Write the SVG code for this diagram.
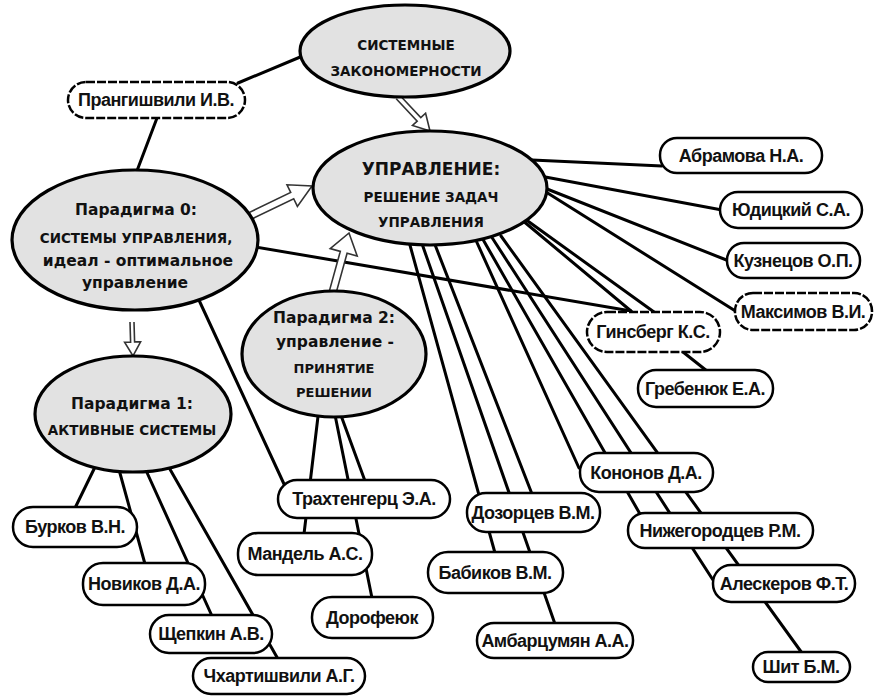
<svg xmlns="http://www.w3.org/2000/svg" width="874" height="696" viewBox="0 0 874 696">
<style>
.bg{fill:#ffffff}
.ell{fill:#e2e2e2;stroke:#000;stroke-width:3.2}
.box{fill:#ffffff;stroke:#000;stroke-width:2.5}
.dash{stroke-dasharray:9 2}
.ln{stroke:#000;stroke-width:3;fill:none;stroke-linecap:round}
.arr{fill:#ffffff;stroke:#333;stroke-width:1.6;stroke-linejoin:miter}
.ht{font-family:"DejaVu Sans","Verdana",sans-serif;font-weight:bold;fill:#111;text-anchor:middle}
.nm{font-family:"Liberation Sans","Arial",sans-serif;font-weight:bold;font-size:18px;letter-spacing:-0.5px;fill:#111;text-anchor:middle}
</style>
<rect class="bg" x="0" y="0" width="874" height="696"/>
<g id="connectors">
<line class="ln" x1="305" y1="55" x2="238" y2="83"/>
<line class="ln" x1="157" y1="118" x2="135" y2="176"/>
<line class="ln" x1="250" y1="246" x2="631" y2="311"/>
<line class="ln" x1="198" y1="298" x2="284" y2="484"/>
<line class="ln" x1="532" y1="160" x2="662" y2="166"/>
<line class="ln" x1="540" y1="176" x2="722" y2="210"/>
<line class="ln" x1="542" y1="187" x2="729" y2="261"/>
<line class="ln" x1="546" y1="192" x2="737" y2="312"/>
<line class="ln" x1="522" y1="220" x2="631" y2="311"/>
<line class="ln" x1="525" y1="219" x2="654" y2="312"/>
<line class="ln" x1="683" y1="352" x2="707" y2="371"/>
<line class="ln" x1="408" y1="238" x2="495" y2="553"/>
<line class="ln" x1="420" y1="238" x2="555" y2="624"/>
<line class="ln" x1="432" y1="237" x2="532" y2="494"/>
<line class="ln" x1="474" y1="236" x2="579" y2="468"/>
<line class="ln" x1="481" y1="236" x2="640" y2="514"/>
<line class="ln" x1="491" y1="236" x2="713" y2="580"/>
<line class="ln" x1="501" y1="236" x2="802" y2="653"/>
<line class="ln" x1="96" y1="465" x2="75" y2="508"/>
<line class="ln" x1="118" y1="466" x2="145" y2="564"/>
<line class="ln" x1="144" y1="466" x2="212" y2="616"/>
<line class="ln" x1="167" y1="464" x2="278" y2="659"/>
<line class="ln" x1="319" y1="408" x2="304" y2="534"/>
<line class="ln" x1="334" y1="410" x2="372" y2="598"/>
<line class="ln" x1="339" y1="410" x2="365" y2="481"/>
<path class="arr" d="M396.2,98.7 L417.2,121.1 L412.5,125.5 L430,131 L425.6,113.2 L420.8,117.6 L399.8,95.3"/>
<path class="arr" d="M251.5,219.2 L293.7,198.7 L297.4,206.4 L312,186 L287,184.8 L290.7,192.4 L248.5,212.9"/>
<path class="arr" d="M130,322 L130.6,342.1 L124.6,342.2 L133,356 L140.6,341.8 L134.6,341.9 L134,322"/>
<path class="arr" d="M336.4,291.9 L347.1,253.2 L357.2,256 L349,233 L330.2,248.6 L340.3,251.4 L329.6,290.1"/>
</g>
<g id="n-sist">
<ellipse class="ell" cx="405" cy="51" rx="105" ry="46"/>
<text class="ht" x="406" y="50" font-size="13.5">СИСТЕМНЫЕ</text>
<text class="ht" x="406" y="76" font-size="13.5">ЗАКОНОМЕРНОСТИ</text>
</g>
<g id="n-upr">
<ellipse class="ell" cx="430" cy="188" rx="117" ry="57"/>
<text class="ht" x="431" y="175" font-size="17">УПРАВЛЕНИЕ:</text>
<text class="ht" x="431" y="202" font-size="13.5">РЕШЕНИЕ ЗАДАЧ</text>
<text class="ht" x="431" y="227" font-size="13.5">УПРАВЛЕНИЯ</text>
</g>
<g id="n-p0">
<ellipse class="ell" cx="135" cy="240" rx="123" ry="70"/>
<text class="ht" x="136" y="215" font-size="15.5">Парадигма 0:</text>
<text class="ht" x="136" y="243" font-size="13.5">СИСТЕМЫ УПРАВЛЕНИЯ,</text>
<text class="ht" x="138" y="266" font-size="15.5">идеал - оптимальное</text>
<text class="ht" x="135" y="288" font-size="15.5">управление</text>
</g>
<g id="n-p1">
<ellipse class="ell" cx="133" cy="414" rx="98" ry="58"/>
<text class="ht" x="132" y="409" font-size="15.5">Парадигма 1:</text>
<text class="ht" x="132" y="435" font-size="13.5">АКТИВНЫЕ СИСТЕМЫ</text>
</g>
<g id="n-p2">
<ellipse class="ell" cx="334" cy="354" rx="92" ry="63"/>
<text class="ht" x="334" y="323" font-size="15.5">Парадигма 2:</text>
<text class="ht" x="335" y="347" font-size="15.5">управление -</text>
<text class="ht" x="334" y="373" font-size="13">ПРИНЯТИЕ</text>
<text class="ht" x="334" y="397" font-size="13">РЕШЕНИИ</text>
</g>
<g id="n-prang"><rect class="box dash" x="68" y="82" width="177" height="36" rx="18"/><text class="nm" x="156" y="106">Прангишвили И.В.</text></g>
<g id="n-abr"><rect class="box" x="660" y="138" width="162" height="35" rx="17"/><text class="nm" x="741" y="162">Абрамова Н.А.</text></g>
<g id="n-yud"><rect class="box" x="720" y="192" width="142" height="36" rx="18"/><text class="nm" x="791" y="216">Юдицкий С.А.</text></g>
<g id="n-kuz"><rect class="box" x="727" y="243" width="133" height="35" rx="17"/><text class="nm" x="793" y="267">Кузнецов О.П.</text></g>
<g id="n-maks"><rect class="box dash" x="735" y="293" width="137" height="37" rx="18"/><text class="nm" x="803" y="318">Максимов В.И.</text></g>
<g id="n-gins"><rect class="box dash" x="587" y="312" width="133" height="40" rx="20"/><text class="nm" x="653" y="338">Гинсберг К.С.</text></g>
<g id="n-greb"><rect class="box" x="638" y="370" width="135" height="37" rx="18"/><text class="nm" x="705" y="395">Гребенюк Е.А.</text></g>
<g id="n-kon"><rect class="box" x="580" y="453" width="133" height="39" rx="19"/><text class="nm" x="646" y="479">Кононов Д.А.</text></g>
<g id="n-doz"><rect class="box" x="467" y="493" width="133" height="39" rx="19"/><text class="nm" x="533" y="519">Дозорцев В.М.</text></g>
<g id="n-nizh"><rect class="box" x="628" y="513" width="185" height="35" rx="17"/><text class="nm" x="720" y="537">Нижегородцев Р.М.</text></g>
<g id="n-bab"><rect class="box" x="428" y="552" width="135" height="41" rx="20"/><text class="nm" x="495" y="579">Бабиков В.М.</text></g>
<g id="n-alesk"><rect class="box" x="713" y="565" width="142" height="37" rx="18"/><text class="nm" x="784" y="590">Алескеров Ф.Т.</text></g>
<g id="n-amb"><rect class="box" x="477" y="623" width="156" height="35" rx="17"/><text class="nm" x="555" y="647">Амбарцумян А.А.</text></g>
<g id="n-shit"><rect class="box" x="753" y="652" width="97" height="30" rx="15"/><text class="nm" x="801" y="673">Шит Б.М.</text></g>
<g id="n-burk"><rect class="box" x="13" y="507" width="124" height="40" rx="20"/><text class="nm" x="75" y="533">Бурков В.Н.</text></g>
<g id="n-nov"><rect class="box" x="83" y="563" width="122" height="42" rx="20"/><text class="nm" x="144" y="590">Новиков Д.А.</text></g>
<g id="n-shch"><rect class="box" x="150" y="615" width="122" height="38" rx="19"/><text class="nm" x="211" y="640">Щепкин А.В.</text></g>
<g id="n-chkh"><rect class="box" x="193" y="658" width="172" height="36" rx="18"/><text class="nm" x="279" y="682">Чхартишвили А.Г.</text></g>
<g id="n-trakh"><rect class="box" x="278" y="480" width="172" height="38" rx="19"/><text class="nm" x="364" y="505">Трахтенгерц Э.А.</text></g>
<g id="n-mand"><rect class="box" x="238" y="533" width="134" height="42" rx="20"/><text class="nm" x="305" y="560">Мандель А.С.</text></g>
<g id="n-dorof"><rect class="box" x="312" y="597" width="121" height="41" rx="20"/><text class="nm" x="372" y="624">Дорофеюк</text></g>
</svg>
